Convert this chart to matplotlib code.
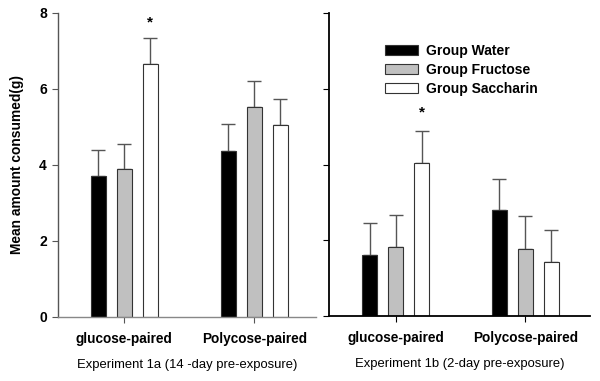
import matplotlib
matplotlib.use('Agg')
import matplotlib.pyplot as plt
import numpy as np

plt.rcParams['font.family'] = ['Liberation Sans', 'DejaVu Sans']

# data
categories = ['glucose-paired', 'Polycose-paired']
groups = ['Group Water', 'Group Fructose', 'Group Saccharin']
colors = ['black', '#c0c0c0', 'white']

exp1a_mean = [[3.71, 4.38], [3.89, 5.53], [6.65, 5.04]]
exp1a_err = [[0.68, 0.71], [0.65, 0.67], [0.69, 0.69]]
exp1b_mean = [[1.62, 2.80], [1.83, 1.77], [4.04, 1.43]]
exp1b_err = [[0.85, 0.83], [0.83, 0.86], [0.86, 0.85]]

panel_titles = ['Experiment 1a (14 -day pre-exposure)', 'Experiment 1b (2-day pre-exposure)']
star_y = [7.75, 5.38]

fig = plt.figure(figsize=(6, 3.81), dpi=100)
ax1 = fig.add_axes([0.0967, 0.168, 0.43, 0.798])
ax2 = fig.add_axes([0.549, 0.1706, 0.434, 0.7944])

x = np.arange(len(categories))
width = 0.118
offsets = [-0.2, 0.0, 0.2]

panels = [(ax1, exp1a_mean, exp1a_err, '#555555', (-0.51, 1.475)),
          (ax2, exp1b_mean, exp1b_err, 'black', (-0.51, 1.496))]

for i, (ax, means, errs, spine_col, xl) in enumerate(panels):
    for j in range(3):
        ax.bar(x + offsets[j], means[j], width, color=colors[j],
               edgecolor='#333333', linewidth=0.8, label=groups[j], zorder=2)
        ax.errorbar(x + offsets[j], means[j], yerr=[np.zeros(2), errs[j]],
                    fmt='none', ecolor='#555555', elinewidth=1, capsize=5,
                    capthick=1, zorder=1)
    # significance marker on the saccharin glucose-paired bar
    ax.text(x[0] + offsets[2], star_y[i], '*', ha='center', va='center',
            fontsize=11, fontweight='bold')
    ax.set_ylim(0, 8)
    ax.set_xlim(*xl)
    ax.set_yticks([0, 2, 4, 6, 8])
    ax.set_xticks(x)
    ax.set_xticklabels(categories, fontsize=9.8, fontweight='bold')
    ax.set_xlabel(panel_titles[i], fontsize=9.4, labelpad=9)
    ax.spines['top'].set_visible(False)
    ax.spines['right'].set_visible(False)
    ax.spines['left'].set_color(spine_col)
    ax.spines['bottom'].set_color(spine_col if i == 1 else '#888888')
    ax.spines['left'].set_linewidth(1.0 if i == 0 else 1.3)
    ax.spines['bottom'].set_linewidth(1.0 if i == 0 else 1.3)
    ax.tick_params(axis='both', length=4, width=0.8, color=spine_col, pad=4)
    ax.tick_params(axis='x', pad=7)

ax1.set_yticklabels(['0', '2', '4', '6', '8'], fontsize=10, fontweight='bold')
ax1.set_ylabel('Mean amount consumed(g)', fontsize=9.9, fontweight='bold', labelpad=11)
ax2.set_yticklabels([])

leg = ax2.legend(loc='upper left', bbox_to_anchor=(0.167, 0.94), frameon=False,
                 prop={'size': 10, 'weight': 'bold'}, handlelength=2.35,
                 handleheight=0.7, labelspacing=0.35, handletextpad=0.55)

plt.savefig('out.png', dpi=100)
